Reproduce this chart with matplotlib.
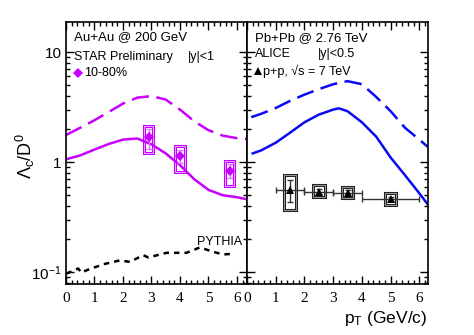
import matplotlib
matplotlib.use('Agg')
import matplotlib.pyplot as plt
from matplotlib.patches import Rectangle
from matplotlib.ticker import MultipleLocator, LogLocator, NullFormatter

plt.rcParams['font.family'] = ['Liberation Sans', 'DejaVu Sans']
plt.rcParams['mathtext.fontset'] = 'custom'
plt.rcParams['mathtext.rm'] = 'Liberation Sans'
plt.rcParams['mathtext.it'] = 'Liberation Sans:italic'

# STAR Au+Au 200 GeV model curves
star_hi_pt = [0, 0.5, 1.0, 1.5, 2.0, 2.5, 3.0, 3.5, 4.0, 4.5, 5.0, 5.5, 6.0, 6.35]
star_hi_val = [1.76, 2.05, 2.4, 2.85, 3.4, 3.85, 3.98, 3.7, 3.0, 2.35, 1.95, 1.74, 1.65, 1.62]
star_lo_pt = [0, 0.5, 1.0, 1.5, 2.0, 2.5, 3.0, 3.5, 4.0, 4.5, 5.0, 5.5, 6.0, 6.35]
star_lo_val = [1.06, 1.15, 1.3, 1.46, 1.6, 1.64, 1.45, 1.2, 0.94, 0.7, 0.56, 0.5, 0.48, 0.46]

# PYTHIA
pythia_pt = [0.02, 0.43, 0.55, 0.72, 1.31, 1.89, 2.25, 2.71, 2.89, 3.53, 4.23, 4.7, 5.17, 5.52, 5.87]
pythia_val = [0.097, 0.108, 0.099, 0.104, 0.118, 0.128, 0.124, 0.143, 0.136, 0.15, 0.15, 0.168, 0.153, 0.145, 0.147]

# STAR data 10-80%
star_pt = [2.9, 4.0, 5.75]
star_val = [1.69, 1.13, 0.83]
star_stat_lo = [1.31, 0.99, 0.71]
star_stat_hi = [2.02, 1.29, 0.96]
star_sys_lo = [1.22, 0.82, 0.61]
star_sys_hi = [2.14, 1.41, 1.03]

# ALICE Pb+Pb 2.76 TeV model curves
alice_hi_pt = [0.15, 0.5, 1.0, 1.5, 2.0, 2.5, 3.0, 3.5, 4.0, 4.5, 5.0, 5.5, 6.0, 6.3]
alice_hi_val = [2.56, 2.75, 3.1, 3.6, 4.1, 4.6, 5.1, 5.44, 5.1, 3.9, 2.9, 2.05, 1.6, 1.37]
alice_lo_pt = [0.2, 0.5, 1.0, 1.5, 2.0, 2.5, 3.0, 3.2, 3.5, 4.0, 4.5, 5.0, 5.5, 6.0, 6.3]
alice_lo_val = [1.2, 1.28, 1.5, 1.85, 2.3, 2.7, 3.0, 3.08, 2.9, 2.3, 1.7, 1.1, 0.76, 0.52, 0.41]

# ALICE p+p 7 TeV data
pp_pt = [1.5, 2.5, 3.5, 5.0]
pp_val = [0.556, 0.537, 0.527, 0.46]
pp_xerr = [0.5, 0.5, 0.5, 1.0]
pp_stat_lo = [0.436, 0.51, 0.5, 0.44]
pp_stat_hi = [0.686, 0.565, 0.555, 0.48]
pp_sys_lo = [0.37, 0.48, 0.47, 0.41]
pp_sys_hi = [0.76, 0.62, 0.59, 0.52]

mag = '#c800ff'
blue = '#0a0af0'

fig = plt.figure(figsize=(4.74, 3.35), dpi=100)
ax1 = fig.add_axes([0.139, 0.152, 0.382, 0.782])
ax2 = fig.add_axes([0.521, 0.152, 0.382, 0.782], sharey=ax1)

for ax in (ax1, ax2):
    ax.set_yscale('log')
    ax.set_ylim(0.078, 18.7)
    ax.xaxis.set_major_locator(MultipleLocator(1))
    ax.xaxis.set_minor_locator(MultipleLocator(0.2))
    ax.yaxis.set_minor_locator(LogLocator(base=10, subs=range(2, 10)))
    ax.yaxis.set_minor_formatter(NullFormatter())
    ax.tick_params(which='both', direction='in', top=True, right=True, width=1)
    ax.tick_params(which='major', length=6)
    ax.tick_params(which='minor', length=3)
    ax.tick_params(axis='x', labelsize=11, pad=6)
    for s in ax.spines.values():
        s.set_linewidth(1.2)
    for lab in ax.get_xticklabels():
        lab.set_fontfamily('Liberation Serif')

ax1.set_xlim(0, 6.35)
ax2.set_xlim(0, 6.3)
ax1.set_yticks([0.1, 1, 10])
ax1.set_yticklabels(['$\\mathregular{10^{-1}}$', '1', '10'], fontsize=11)
ax1.tick_params(axis='y', labelsize=11, pad=3)
ax2.tick_params(axis='y', labelleft=False)

# left panel
ax1.plot(star_hi_pt, star_hi_val, color=mag, lw=1.8, dashes=(7, 3))
ax1.plot(star_lo_pt, star_lo_val, color=mag, lw=1.8)
ax1.plot(pythia_pt, pythia_val, color='black', lw=1.8, dashes=(2.2, 2))
for i in range(len(star_pt)):
    w = 0.16
    ax1.add_patch(Rectangle((star_pt[i] - w, star_sys_lo[i]), 2 * w, star_sys_hi[i] - star_sys_lo[i],
                            fill=False, edgecolor=mag, lw=2.2))
    ax1.add_patch(Rectangle((star_pt[i] - w, star_sys_lo[i]), 2 * w, star_sys_hi[i] - star_sys_lo[i],
                            fill=False, edgecolor='#f0a8ff', lw=0.7))
ax1.errorbar(star_pt, star_val,
             yerr=[[v - l for v, l in zip(star_val, star_stat_lo)], [h - v for v, h in zip(star_val, star_stat_hi)]],
             fmt='none', ecolor='#e070ff', elinewidth=1, capsize=2)
ax1.plot(star_pt, star_val, 'D', color=mag, ms=5, mew=0)

ax1.text(0.044, 0.943, 'Au+Au @ 200 GeV', transform=ax1.transAxes, fontsize=9.5, va='center')
ax1.text(0.044, 0.866, 'STAR Preliminary', transform=ax1.transAxes, fontsize=9, va='center')
ax1.text(0.674, 0.866, '|y|<1', transform=ax1.transAxes, fontsize=9, va='center')
ax1.plot([0.066], [0.805], 'D', color=mag, ms=5, mew=0, transform=ax1.transAxes)
ax1.text(0.1, 0.805, '10-80%', transform=ax1.transAxes, fontsize=9, va='center')
ax1.text(4.59, 0.19, 'PYTHIA', fontsize=9, va='center')

# right panel
ax2.plot(alice_hi_pt, alice_hi_val, color=blue, lw=1.8, dashes=(7, 3))
ax2.plot(alice_lo_pt, alice_lo_val, color=blue, lw=1.8)
for i in range(len(pp_pt)):
    w = 0.2
    ax2.add_patch(Rectangle((pp_pt[i] - w, pp_sys_lo[i]), 2 * w, pp_sys_hi[i] - pp_sys_lo[i],
                            fill=False, edgecolor='#222222', lw=2.2))
    ax2.add_patch(Rectangle((pp_pt[i] - w, pp_sys_lo[i]), 2 * w, pp_sys_hi[i] - pp_sys_lo[i],
                            fill=False, edgecolor='#999999', lw=0.7))
ax2.errorbar(pp_pt, pp_val, xerr=pp_xerr,
             yerr=[[v - l for v, l in zip(pp_val, pp_stat_lo)], [h - v for v, h in zip(pp_val, pp_stat_hi)]],
             fmt='none', ecolor='#333333', elinewidth=1, capsize=2)
ax2.plot(pp_pt, pp_val, '^', color='black', ms=6, mew=0)

ax2.text(0.044, 0.94, 'Pb+Pb @ 2.76 TeV', transform=ax2.transAxes, fontsize=9.5, va='center')
ax2.text(0.044, 0.878, 'ALICE', transform=ax2.transAxes, fontsize=9, va='center')
ax2.text(0.392, 0.878, '|y|<0.5', transform=ax2.transAxes, fontsize=9, va='center')
ax2.plot([0.061], [0.814], '^', color='black', ms=5.5, mew=0, transform=ax2.transAxes)
ax2.text(0.087, 0.814, 'p+p, \u221as = 7 TeV', transform=ax2.transAxes, fontsize=9, va='center')

fig.text(0.053, 0.535, r'$\mathregular{\Lambda_c/D^0}$', rotation=90, fontsize=13, ha='center', va='center')
fig.text(0.902, 0.05, r'$\mathregular{p_T}$ (GeV/c)', fontsize=12.5, ha='right', va='center')

fig.savefig('out.png', dpi=100)
